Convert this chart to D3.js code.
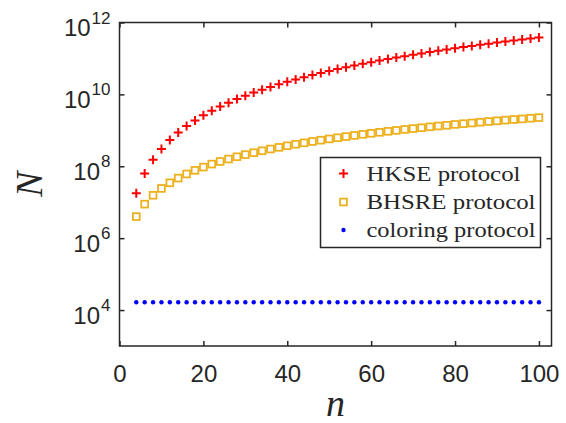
<!DOCTYPE html>
<html>
<head>
<meta charset="utf-8">
<script src="https://cdn.jsdelivr.net/npm/d3@7"></script>
<style>
  body { margin: 0; background: #fff; }
  text { fill: #262626; }
</style>
</head>
<body>
<svg id="chart" width="566" height="423"></svg>
<script>
// n values (x)
const nValues = [4, 6, 8, 10, 12, 14, 16, 18, 20, 22, 24, 26, 28, 30, 32, 34, 36, 38, 40, 42,
  44, 46, 48, 50, 52, 54, 56, 58, 60, 62, 64, 66, 68, 70, 72, 74, 76, 78, 80, 82,
  84, 86, 88, 90, 92, 94, 96, 98, 100];

// N
const hkse = [1.78e7, 6.3e7, 1.52e8, 3.04e8, 5.36e8, 8.65e8, 1.31e9, 1.88e9, 2.61e9, 3.51e9,
  4.59e9, 5.89e9, 7.41e9, 9.18e9, 1.12e10, 1.35e10, 1.61e10, 1.91e10, 2.24e10, 2.61e10,
  3.01e10, 3.45e10, 3.94e10, 4.47e10, 5.05e10, 5.68e10, 6.35e10, 7.08e10, 7.87e10, 8.71e10,
  9.62e10, 1.06e11, 1.16e11, 1.27e11, 1.38e11, 1.51e11, 1.64e11, 1.77e11, 1.92e11, 2.07e11,
  2.23e11, 2.40e11, 2.58e11, 2.77e11, 2.96e11, 3.16e11, 3.38e11, 3.61e11, 3.84e11];

const bhsre = [3.98e6, 8.85e6, 1.56e7, 2.42e7, 3.47e7, 4.70e7, 6.11e7, 7.71e7, 9.48e7, 1.15e8,
  1.36e8, 1.59e8, 1.84e8, 2.11e8, 2.39e8, 2.70e8, 3.02e8, 3.36e8, 3.72e8, 4.09e8,
  4.49e8, 4.90e8, 5.32e8, 5.77e8, 6.22e8, 6.71e8, 7.21e8, 7.73e8, 8.26e8, 8.81e8,
  9.38e8, 9.95e8, 1.06e9, 1.12e9, 1.18e9, 1.25e9, 1.32e9, 1.38e9, 1.46e9, 1.53e9,
  1.60e9, 1.68e9, 1.76e9, 1.84e9, 1.92e9, 2.00e9, 2.08e9, 2.17e9, 2.26e9];

const coloring = [1.65e4, 1.65e4, 1.65e4, 1.65e4, 1.65e4, 1.65e4, 1.65e4, 1.65e4, 1.65e4, 1.65e4,
  1.65e4, 1.65e4, 1.65e4, 1.65e4, 1.65e4, 1.65e4, 1.65e4, 1.65e4, 1.65e4, 1.65e4,
  1.65e4, 1.65e4, 1.65e4, 1.65e4, 1.65e4, 1.65e4, 1.65e4, 1.65e4, 1.65e4, 1.65e4,
  1.65e4, 1.65e4, 1.65e4, 1.65e4, 1.65e4, 1.65e4, 1.65e4, 1.65e4, 1.65e4, 1.65e4,
  1.65e4, 1.65e4, 1.65e4, 1.65e4, 1.65e4, 1.65e4, 1.65e4, 1.65e4, 1.65e4];

const xTicks = [0, 20, 40, 60, 80, 100];
const yTickExps = [4, 6, 8, 10, 12];
const legendLabels = ["HKSE protocol", "BHSRE protocol", "coloring protocol"];

const svg = d3.select("#chart");
const axisColor = "#262626";

const plotL = 119.5, plotR = 551.5, plotT = 22.5, plotB = 346;

const x = d3.scaleLinear().domain([0, 103]).range([plotL, plotR]);
const y = d3.scaleLog().domain([1e3, 1e12]).range([plotB, plotT]);

// axes (ticks point inward, box on)
function styleAxis(g) {
  g.select(".domain").remove();
  g.selectAll(".tick line").attr("stroke", axisColor).attr("stroke-width", 1.5);
}

svg.append("g")
  .attr("transform", `translate(0,${plotB})`)
  .call(d3.axisBottom(x).tickValues(xTicks).tickSize(-5).tickPadding(19))
  .call(styleAxis)
  .call(g => g.selectAll("text")
    .attr("font-family", "Liberation Sans, Arial, sans-serif")
    .attr("font-size", 24)
    .attr("fill", axisColor));

svg.append("g")
  .attr("transform", `translate(0,${plotT})`)
  .call(d3.axisTop(x).tickValues(xTicks).tickSize(-5).tickFormat(""))
  .call(styleAxis);

const yTickVals = yTickExps.map(e => Math.pow(10, e));

svg.append("g")
  .attr("transform", `translate(${plotL},0)`)
  .call(d3.axisLeft(y).tickValues(yTickVals).tickSize(-5).tickFormat(""))
  .call(styleAxis);

svg.append("g")
  .attr("transform", `translate(${plotR},0)`)
  .call(d3.axisRight(y).tickValues(yTickVals).tickSize(-5).tickFormat(""))
  .call(styleAxis);

// y tick labels 10^k
const yLab = svg.append("g")
  .attr("font-family", "Liberation Sans, Arial, sans-serif")
  .attr("fill", axisColor);

yTickExps.forEach(e => {
  const t = yLab.append("text")
    .attr("x", plotL - 9)
    .attr("y", y(Math.pow(10, e)) + 13.5)
    .attr("text-anchor", "end");
  t.append("tspan").attr("font-size", 24).text("10");
  t.append("tspan").attr("font-size", 17).attr("dx", 1).attr("dy", -12.5).text(e);
});

// frame
svg.append("rect")
  .attr("x", plotL).attr("y", plotT)
  .attr("width", plotR - plotL).attr("height", plotB - plotT)
  .attr("fill", "none")
  .attr("stroke", axisColor)
  .attr("stroke-width", 1.5);

// axis titles
svg.append("text")
  .attr("x", (plotL + plotR) / 2)
  .attr("y", 416)
  .attr("text-anchor", "middle")
  .attr("font-family", "Liberation Serif, Times New Roman, serif")
  .attr("font-style", "italic")
  .attr("font-size", 38)
  .text("n");

svg.append("text")
  .attr("transform", `translate(42,${(plotT + plotB) / 2}) rotate(-90)`)
  .attr("text-anchor", "middle")
  .attr("font-family", "Liberation Serif, Times New Roman, serif")
  .attr("font-style", "italic")
  .attr("font-size", 38)
  .text("N");

// markers
const plusPath = "M-4.5,0H4.5M0,-4.5V4.5";

svg.append("g").selectAll("path")
  .data(nValues.map((n, i) => [n, hkse[i]]))
  .join("path")
  .attr("transform", d => `translate(${x(d[0])},${y(d[1])})`)
  .attr("d", plusPath)
  .attr("stroke", "#ff0000")
  .attr("stroke-width", 2)
  .attr("fill", "none");

svg.append("g").selectAll("rect")
  .data(nValues.map((n, i) => [n, bhsre[i]]))
  .join("rect")
  .attr("x", d => x(d[0]) - 3.4)
  .attr("y", d => y(d[1]) - 3.4)
  .attr("width", 6.8)
  .attr("height", 6.8)
  .attr("fill", "none")
  .attr("stroke", "#EDB120")
  .attr("stroke-width", 1.8);

svg.append("g").selectAll("circle")
  .data(nValues.map((n, i) => [n, coloring[i]]))
  .join("circle")
  .attr("cx", d => x(d[0]))
  .attr("cy", d => y(d[1]))
  .attr("r", 2.2)
  .attr("fill", "#0000ff");

// legend
const lg = svg.append("g").attr("transform", "translate(320.5,157.5)");
lg.append("rect")
  .attr("width", 220).attr("height", 90)
  .attr("fill", "#fff")
  .attr("stroke", axisColor)
  .attr("stroke-width", 1.5);

const rowY = [16, 44.5, 72.5];
const labelWidths = [154, 169, 169];

lg.append("path")
  .attr("transform", `translate(23,${rowY[0]})`)
  .attr("d", plusPath)
  .attr("stroke", "#ff0000").attr("stroke-width", 2);
lg.append("rect")
  .attr("x", 23 - 3.4).attr("y", rowY[1] - 3.4)
  .attr("width", 6.8).attr("height", 6.8)
  .attr("fill", "none").attr("stroke", "#EDB120").attr("stroke-width", 1.8);
lg.append("circle")
  .attr("cx", 23).attr("cy", rowY[2]).attr("r", 2.2)
  .attr("fill", "#0000ff");

legendLabels.forEach((label, i) => {
  lg.append("text")
    .attr("x", 46)
    .attr("y", rowY[i] + 7)
    .attr("font-family", "Liberation Serif, Times New Roman, serif")
    .attr("font-size", 21)
    .attr("textLength", labelWidths[i])
    .attr("lengthAdjust", "spacingAndGlyphs")
    .text(label);
});
</script>
</body>
</html>
